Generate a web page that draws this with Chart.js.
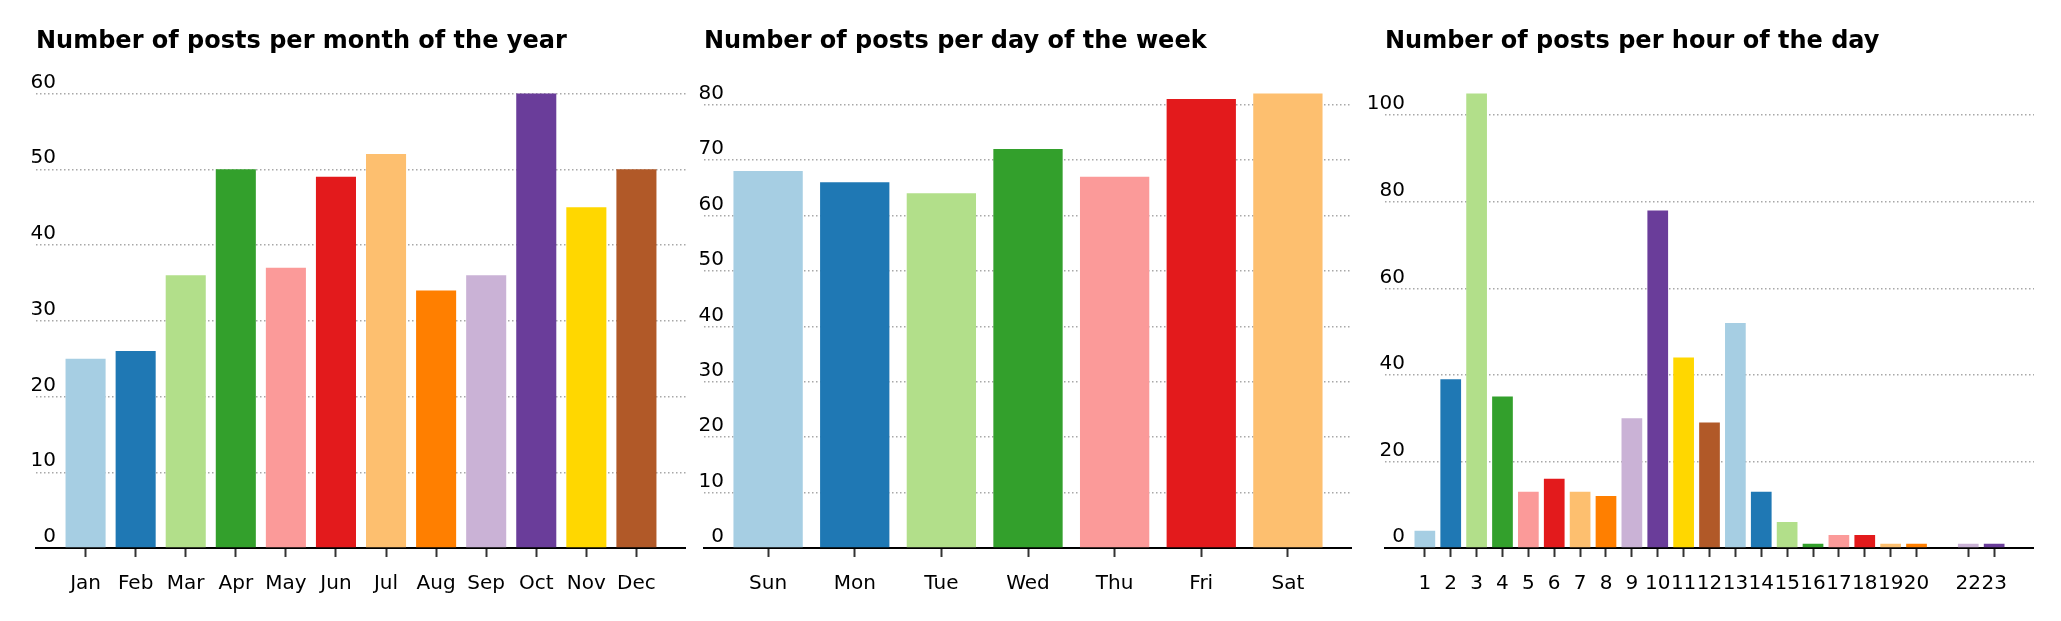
<!DOCTYPE html>
<html>
<head>
<meta charset="utf-8">
<script src="https://cdn.jsdelivr.net/npm/chart.js@4.4.0/dist/chart.umd.min.js"></script>
<style>
  html, body { margin: 0; padding: 0; background: #fff; }
  body { width: 2061px; height: 621px; position: relative; overflow: hidden; }
  canvas { position: absolute; top: 0; }
</style>
</head>
<body>
<canvas id="month-chart" width="690" height="621" style="left:-4px"></canvas>
<canvas id="day-chart" width="688" height="621" style="left:664px"></canvas>
<canvas id="hour-chart" width="689" height="621" style="left:1345px"></canvas>
<script>
var monthLabels = ["Jan", "Feb", "Mar", "Apr", "May", "Jun", "Jul", "Aug", "Sep", "Oct", "Nov", "Dec"];
var monthCounts = [25, 26, 36, 50, 37, 49, 52, 34, 36, 60, 45, 50];

var dayLabels = ["Sun", "Mon", "Tue", "Wed", "Thu", "Fri", "Sat"];
var dayCounts = [68, 66, 64, 72, 67, 81, 82];

var hourLabels = [1, 2, 3, 4, 5, 6, 7, 8, 9, 10, 11, 12, 13, 14, 15, 16, 17, 18, 19, 20, 22, 23];
var hourCounts = [4, 39, 105, 35, 13, 16, 13, 12, 30, 78, 44, 29, 52, 13, 6, 1, 3, 3, 1, 1, 1, 1];

var palette = ["#a6cee3", "#1f78b4", "#b2df8a", "#33a02c", "#fb9a99", "#e31a1c",
               "#fdbf6f", "#ff7f00", "#cab2d6", "#6a3d9a", "#ffd700", "#b15928"];

Chart.defaults.font.family = "'DejaVu Sans'";
Chart.defaults.color = "#000";

function drawPostsChart(canvasId, title, positions, labels, counts, yStep, yPad) {
    var ctx = document.getElementById(canvasId);
    // same margins as the original: 5% of the bar span on each side
    var lo = positions[0] - 0.4;
    var hi = positions[positions.length - 1] + 0.4;
    var span = hi - lo;
    var yMax = Math.max.apply(null, counts) * 1.05;

    return new Chart(ctx, {
        type: 'bar',
        data: {
            datasets: [{
                data: positions.map(function(p, i){ return {x: p, y: counts[i]}; }),
                backgroundColor: counts.map(function(c, i){ return palette[i % palette.length]; }),
                barPercentage: 0.8,
                categoryPercentage: 1.0
            }]
        },
        options: {
            responsive: false,
            animation: false,
            // room on the left for the tick labels that hang outside the axes
            layout: { padding: { left: 40, right: 0, top: 0, bottom: 10 } },
            plugins: {
                legend: { display: false },
                tooltip: { enabled: false },
                title: {
                    display: true,
                    text: title,
                    align: 'start',
                    color: '#000',
                    font: { size: 24, weight: 'bold' },
                    padding: { top: 27, bottom: 15 }
                }
            },
            scales: {
                x: {
                    type: 'linear',
                    bounds: 'data',
                    min: lo - span * 0.05,
                    max: hi + span * 0.05,
                    offset: false,
                    z: 1,
                    border: { display: true, color: '#000', width: 2 },
                    grid: { display: true, drawOnChartArea: false, drawTicks: true, tickLength: 9, tickWidth: 2, tickColor: '#333', offset: false },
                    afterBuildTicks: function(scale){
                        scale.ticks = positions.map(function(p){ return {value: p}; });
                    },
                    ticks: {
                        autoSkip: false,
                        maxRotation: 0,
                        minRotation: 0,
                        padding: 15,
                        color: '#000',
                        font: { size: 20 },
                        callback: function(value, index){ return String(labels[index]); }
                    }
                },
                y: {
                    min: 0,
                    max: yMax,
                    afterFit: function(scale){ scale.width = 0; },
                    afterBuildTicks: function(scale){
                        scale.ticks = scale.ticks.filter(function(t){ return t.value % yStep === 0; });
                    },
                    border: { display: false, dash: [1.5, 2.5] },
                    grid: { color: '#a8a8a8', lineWidth: 1.5, drawTicks: false },
                    ticks: {
                        stepSize: yStep,
                        includeBounds: false,
                        mirror: true,
                        crossAlign: 'far',
                        padding: yPad,
                        labelOffset: -11,
                        color: '#000',
                        font: { size: 20 }
                    }
                }
            }
        }
    });
}

drawPostsChart("month-chart", "Number of posts per month of the year",
    monthLabels.map(function(l, i){ return i + 1; }), monthLabels, monthCounts, 10, -5.5);
drawPostsChart("day-chart", "Number of posts per day of the week",
    dayLabels.map(function(l, i){ return i + 1; }), dayLabels, dayCounts, 10, -5.5);
drawPostsChart("hour-chart", "Number of posts per hour of the day",
    hourLabels, hourLabels, hourCounts, 20, -18.2);
</script>
</body>
</html>
